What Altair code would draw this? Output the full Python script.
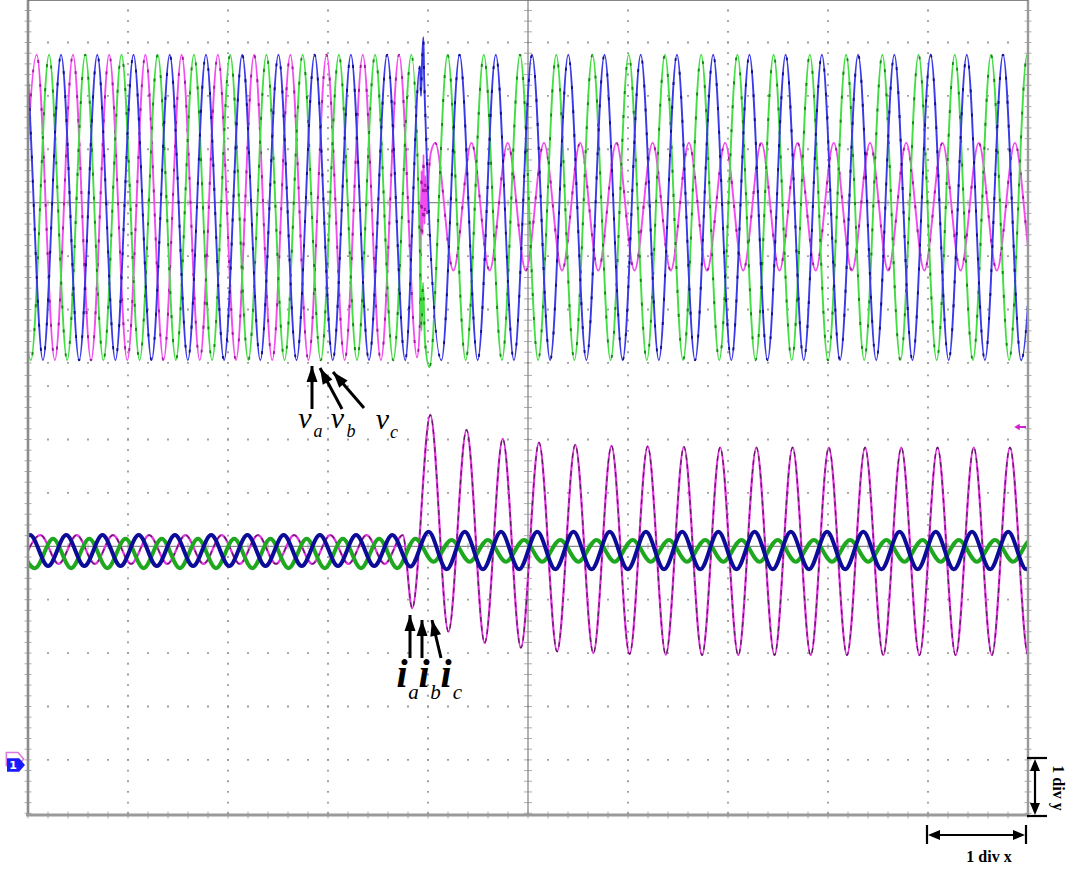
import math
import altair as alt
import pandas as pd

# ---------------- data (oscilloscope divisions) ----------------
HALF = 0.18115          # half period of the 50 Hz traces, in time divisions
UPPER_ZERO = 11.466     # centre of the voltage screen (divisions above bottom)
LOWER_ZERO = 5.032      # centre of the current screen
Y_TOP = 15.262

# voltage v_a (magenta): successive extrema, first at VA_T0
VA_T0 = -0.094
VA_LEVELS = [
    -2.95, 2.77, -2.95, 2.77, -2.95, 2.77, -2.95, 2.77, -2.95, 2.77, -2.95,
    2.77, -2.95, 2.77, -2.95, 2.77, -2.95, 2.77, -2.95, 2.77, -2.95, 2.77, -2.90,
    1.12, -1.27, 1.12, -1.27, 1.12, -1.27, 1.12, -1.27, 1.12, -1.27, 1.12, -1.27,
    1.12, -1.27, 1.12, -1.27, 1.12, -1.27, 1.12, -1.27, 1.12, -1.27, 1.12, -1.27,
    1.12, -1.27, 1.12, -1.27, 1.12, -1.27, 1.12, -1.27, 1.12, -1.27, 1.12,
]
VA_EXTRA_T = [3.92, 3.935, 3.945, 3.955, 3.965, 3.975, 3.99, 4.01, 4.03]
VA_EXTRA_V = [-2.2, 0.6, -0.6, 0.9, -0.4, 0.5, -0.2, 0.6, 0.95]

# voltage v_b (green)
VB_T0 = -0.152
VB_LEVELS = [
    2.77, -2.95, 2.77, -2.95, 2.77, -2.95, 2.77, -2.95, 2.77, -2.95, 2.77,
    -2.95, 2.77, -2.95, 2.77, -2.95, 2.77, -2.95, 2.77, -2.95, 2.77, -2.95, 2.77,
    -3.08, 2.77, -2.95, 2.77, -2.95, 2.77, -2.95, 2.77, -2.95, 2.77, -2.95, 2.77,
    -2.95, 2.77, -2.95, 2.77, -2.95, 2.77, -2.95, 2.77, -2.95, 2.77, -2.95, 2.77,
    -2.95, 2.77, -2.95, 2.77, -2.95, 2.77, -2.95, 2.77, -2.95, 2.77, -2.95,
]
VB_EXTRA_T = [3.92, 3.935, 3.95, 3.97]
VB_EXTRA_V = [-1.0, -2.4, -1.5, -2.6]

# voltage v_c (blue)
VC_T0 = -0.213
VC_LEVELS = [
    -2.95, 2.77, -2.95, 2.77, -2.95, 2.77, -2.95, 2.77, -2.95, 2.77, -2.95,
    2.77, -2.95, 2.77, -2.95, 2.77, -2.95, 2.77, -2.95, 2.77, -2.95, 2.77, -2.95,
    3.10, -2.95, 2.77, -2.95, 2.77, -2.95, 2.77, -2.95, 2.77, -2.95, 2.77, -2.95,
    2.77, -2.95, 2.77, -2.95, 2.77, -2.95, 2.77, -2.95, 2.77, -2.95, 2.77, -2.95,
    2.77, -2.95, 2.77, -2.95, 2.77, -2.95, 2.77, -2.95, 2.77, -2.95, 2.77,
]
VC_EXTRA_T = [3.92, 3.93, 3.94, 3.962]
VC_EXTRA_V = [2.55, 2.0, 2.6, 2.3]

# current i_a (magenta): before the fault, then after the fault
IA_T0 = -0.056
IA_LEVELS = [
    -0.33, 0.21, -0.33, 0.21, -0.33, 0.21, -0.33, 0.21, -0.33, 0.21, -0.33,
    0.21, -0.33, 0.21, -0.33, 0.21, -0.33, 0.21, -0.33, 0.21, -0.33, 0.21,
]
IA_T1 = 3.842
IA_FAULT_LEVELS = [
    -1.16, 2.46, -1.60, 2.18, -1.81, 2.01, -1.90, 1.94, -1.97, 1.90, -2.00, 1.88,
    -2.02, 1.87, -2.03, 1.86, -2.04, 1.85, -2.04, 1.85, -2.04, 1.85, -2.04, 1.85,
    -2.04, 1.85, -2.04, 1.85, -2.04, 1.85, -2.04, 1.85, -2.04, 1.85, -2.04, 1.85,
]

# current i_b (green)
IB_T0 = -0.112
IB_LEVELS = [
    0.14, -0.41, 0.14, -0.41, 0.14, -0.41, 0.14, -0.41, 0.14, -0.41, 0.14,
    -0.41, 0.14, -0.41, 0.14, -0.41, 0.14, -0.41, 0.14, -0.41, 0.14, -0.41, 0.14,
    -0.29, 0.12, -0.29, 0.12, -0.29, 0.12, -0.29, 0.12, -0.29, 0.12, -0.29, 0.12,
    -0.29, 0.12, -0.29, 0.12, -0.29, 0.12, -0.29, 0.12, -0.29, 0.12, -0.29, 0.12,
    -0.29, 0.12, -0.29, 0.12, -0.29, 0.12, -0.29, 0.12, -0.29, 0.12, -0.29,
]

# current i_c (blue)
IC_T0 = -0.161
IC_LEVELS = [
    -0.37, 0.21, -0.37, 0.21, -0.37, 0.21, -0.37, 0.21, -0.37, 0.21, -0.37,
    0.21, -0.37, 0.21, -0.37, 0.21, -0.37, 0.21, -0.37, 0.21, -0.37, 0.21, -0.38,
    0.27, -0.43, 0.27, -0.43, 0.27, -0.43, 0.27, -0.43, 0.27, -0.43, 0.27, -0.43,
    0.27, -0.43, 0.27, -0.43, 0.27, -0.43, 0.27, -0.43, 0.27, -0.43, 0.27, -0.43,
    0.27, -0.43, 0.27, -0.43, 0.27, -0.43, 0.27, -0.43, 0.27, -0.43, 0.27,
]

# ---------------- helpers ----------------
XS = alt.Scale(domain=[0, 10], nice=False, zero=False)
YS = alt.Scale(domain=[0, Y_TOP], nice=False, zero=False)
OX = 28  # left padding in pixels


def trace(t0, levels, zero, extra_t=(), extra_v=()):
    ts = [t0 + i * HALF for i in range(len(levels))] + list(extra_t)
    vs = [zero + v for v in levels] + [zero + v for v in extra_v]
    return pd.DataFrame({"t": ts, "v": vs}).sort_values("t").reset_index(drop=True)


def line(df, color, width, dash=None, opacity=1.0):
    kw = dict(interpolate="monotone", color=color, strokeWidth=width,
              clip=True, opacity=opacity, strokeCap="butt")
    if dash:
        kw["strokeDash"] = dash
    return alt.Chart(df).mark_line(**kw).encode(
        x=alt.X("t:Q", scale=XS, axis=None),
        y=alt.Y("v:Q", scale=YS, axis=None),
    )


def segs(rows, color, width, dash=None):
    df = pd.DataFrame(rows, columns=["x", "y", "x2", "y2"])
    kw = dict(color=color, strokeWidth=width)
    if dash:
        kw["strokeDash"] = dash
    return alt.Chart(df).mark_rule(**kw).encode(
        x=alt.X("x:Q", scale=XS, axis=None), y=alt.Y("y:Q", scale=YS, axis=None),
        x2="x2:Q", y2="y2:Q")


def px_segs(rows, color, width):
    df = pd.DataFrame([(a - OX, b, c - OX, d) for a, b, c, d in rows],
                      columns=["x", "y", "x2", "y2"])
    return alt.Chart(df).mark_rule(color=color, strokeWidth=width).encode(
        x=alt.X("x:Q", scale=None), y=alt.Y("y:Q", scale=None),
        x2="x2:Q", y2="y2:Q")


def px_heads(pairs, length=16, width=11):
    """Filled triangular arrow heads; tip at the given point."""
    layers = []
    for (tx, ty), (hx, hy) in pairs:  # tail, tip
        dx, dy = hx - tx, hy - ty
        n = math.hypot(dx, dy)
        ux, uy = dx / n, dy / n
        nx, ny = -uy, ux
        bx, by = hx - ux * length, hy - uy * length
        pts = [(hx, hy), (bx + nx * width / 2, by + ny * width / 2),
               (bx - nx * width / 2, by - ny * width / 2), (hx, hy)]
        df = pd.DataFrame([(j, x - OX, y) for j, (x, y) in enumerate(pts)],
                          columns=["o", "x", "y"])
        layers.append(alt.Chart(df).mark_line(color="black", strokeWidth=1, fill="black",
                                              filled=True, opacity=1).encode(
            x=alt.X("x:Q", scale=None), y=alt.Y("y:Q", scale=None), order="o:Q"))
    return alt.layer(*layers)


def px_text(rows, size, style="italic", weight="normal", baseline="alphabetic",
            angle=0, color="black", font="Liberation Serif"):
    df = pd.DataFrame([(a - OX, b, s) for a, b, s in rows], columns=["x", "y", "s"])
    return alt.Chart(df).mark_text(fontSize=size, fontStyle=style, fontWeight=weight,
                                   font=font, baseline=baseline, align="center",
                                   angle=angle, color=color).encode(
        x=alt.X("x:Q", scale=None), y=alt.Y("y:Q", scale=None), text="s:N")


# ---------------- grid ----------------
GRID = "#9a9a9a"
dots = []
for r in [-3, -2, -1, 1, 2, 3]:
    for i in range(51):
        dots.append((i * 0.2, UPPER_ZERO + r))
for r in [-4, -3, -2, -1, 1, 2, 3]:
    for i in range(51):
        dots.append((i * 0.2, LOWER_ZERO + r))
for c in [1, 2, 3, 4, 6, 7, 8, 9]:
    for m in range(-15, 19):
        dots.append((c, UPPER_ZERO + 0.2 * m))
    for m in range(-25, 17):
        dots.append((c, LOWER_ZERO + 0.2 * m))
dots_df = pd.DataFrame(dots, columns=["x", "y"])
grid_dots = alt.Chart(dots_df).mark_square(size=3.5, color=GRID, opacity=1).encode(
    x=alt.X("x:Q", scale=XS, axis=None), y=alt.Y("y:Q", scale=YS, axis=None))

ctr_h = pd.DataFrame([(i * 0.2, z) for z in (UPPER_ZERO, LOWER_ZERO) for i in range(51)],
                     columns=["x", "y"])
ctr_h_ticks = alt.Chart(ctr_h).mark_tick(orient="vertical", size=6, thickness=1,
                                          color="#8a8a8a").encode(
    x=alt.X("x:Q", scale=XS, axis=None), y=alt.Y("y:Q", scale=YS, axis=None))

v_ticks = [(5, UPPER_ZERO + 0.2 * m) for m in range(-15, 19)] + \
          [(5, LOWER_ZERO + 0.2 * m) for m in range(-25, 17)]
ctr_v = pd.DataFrame(v_ticks, columns=["x", "y"])
ctr_v_ticks = alt.Chart(ctr_v).mark_tick(orient="horizontal", size=8, thickness=1,
                                          color="#8a8a8a").encode(
    x=alt.X("x:Q", scale=XS, axis=None), y=alt.Y("y:Q", scale=YS, axis=None))

edge_ticks = pd.DataFrame([(0, y) for _, y in v_ticks] + [(10, y) for _, y in v_ticks],
                          columns=["x", "y"])
edge_tick_layer = alt.Chart(edge_ticks).mark_tick(orient="horizontal", size=7, thickness=1,
                                                   color="#8a8a8a").encode(
    x=alt.X("x:Q", scale=XS, axis=None), y=alt.Y("y:Q", scale=YS, axis=None))
bottom_ticks = alt.Chart(pd.DataFrame({"x": [i * 0.2 for i in range(51)], "y": [0.0] * 51})
                         ).mark_tick(orient="vertical", size=7, thickness=1,
                                     color="#8a8a8a").encode(
    x=alt.X("x:Q", scale=XS, axis=None), y=alt.Y("y:Q", scale=YS, axis=None))

centre_lines = segs([(0, UPPER_ZERO, 10, UPPER_ZERO), (0, LOWER_ZERO, 10, LOWER_ZERO),
                     (5, 0, 5, Y_TOP)], "#8a8a8a", 1.3)

frame = alt.layer(
    segs([(0, 0, 0, Y_TOP)], "#8c8c8c", 2.6),
    segs([(10, 0, 10, Y_TOP)], "#9a9a9a", 2.4),
    segs([(-0.02, 0, 10, 0)], "#9a9a9a", 3.0),
    segs([(0, Y_TOP, 10, Y_TOP)], "#6a6a6a", 1.6),
)

# ---------------- traces ----------------
va = trace(VA_T0, VA_LEVELS, UPPER_ZERO, VA_EXTRA_T, VA_EXTRA_V)
vb = trace(VB_T0, VB_LEVELS, UPPER_ZERO, VB_EXTRA_T, VB_EXTRA_V)
vc = trace(VC_T0, VC_LEVELS, UPPER_ZERO, VC_EXTRA_T, VC_EXTRA_V)
ia = pd.concat([trace(IA_T0, IA_LEVELS, LOWER_ZERO),
                trace(IA_T1, IA_FAULT_LEVELS, LOWER_ZERO)]).sort_values("t")
ib = trace(IB_T0, IB_LEVELS, LOWER_ZERO)
ic = trace(IC_T0, IC_LEVELS, LOWER_ZERO)

traces = alt.layer(
    line(va, "#f04cf0", 1.9), line(va, "#a01aa0", 1.9, [3, 21]),
    line(vb, "#44dd44", 1.9), line(vb, "#168816", 1.9, [3, 21]),
    line(vc, "#3a3ae6", 1.9), line(vc, "#10108c", 1.9, [3, 21]),
    line(ia, "#e433e4", 2.2), line(ia, "#5a1f5a", 1.3, [5, 4]),
    line(ib, "#1fa81f", 4.0),
    line(ic, "#0c0c98", 4.0),
)

# ---------------- annotations ----------------
v_arrows = [((312, 409), (312, 366)), ((342, 409), (320, 368)), ((364, 408), (333, 372))]
i_arrows = [((410, 658), (410, 615)), ((422, 658), (422, 620)), ((441, 658), (432, 620))]
shafts = px_segs([(a[0], a[1], b[0], b[1]) for a, b in v_arrows + i_arrows], "black", 3.0)
heads = px_heads(v_arrows + i_arrows, length=16, width=11)

v_text = px_text([(305, 428, "v"), (337.5, 428, "v"), (382.5, 429, "v")], 30)
v_sub = px_text([(318, 437, "a"), (351, 437, "b"), (394, 438, "c")], 18)
i_text = px_text([(402, 687, "i"), (424, 687, "i"), (446, 687, "i")], 40, weight="bold")
i_sub = px_text([(413.5, 699, "a"), (435.5, 699, "b"), (457.5, 699, "c")], 21)

scale_bars = px_segs([(935, 835, 1018, 835), (927, 825, 927, 844), (1026, 825, 1026, 844),
                      (1035, 766, 1035, 808), (1027, 758, 1047, 758),
                      (1027, 816, 1047, 816)], "black", 2.2)
scale_heads = px_heads([((980, 835), (928, 835)), ((980, 835), (1025, 835)),
                        ((1035, 790), (1035, 759)), ((1035, 790), (1035, 815))],
                       length=12, width=10)
div_x = px_text([(989, 857, "1 div x")], 16, style="normal", weight="bold", baseline="middle")
div_y = px_text([(1058, 788, "1 div y")], 16, style="normal", weight="bold",
                baseline="middle", angle=90)

# trigger / channel markers
MARK = "M-1,-0.75L0.35,-0.75L1,0L0.35,0.75L-1,0.75Z"
ch_outline = alt.Chart(pd.DataFrame({"x": [15 - OX], "y": [759]})).mark_point(
    shape=MARK, size=300, filled=False, color="#d040d0", strokeWidth=1.5).encode(
    x=alt.X("x:Q", scale=None), y=alt.Y("y:Q", scale=None))
ch_marker = alt.Chart(pd.DataFrame({"x": [16 - OX], "y": [765]})).mark_point(
    shape=MARK, size=324, filled=True, color="#1a1aff", opacity=1).encode(
    x=alt.X("x:Q", scale=None), y=alt.Y("y:Q", scale=None))
ch_label = px_text([(13, 766, "1")], 11, style="normal", weight="bold",
                   baseline="middle", color="white", font="DejaVu Sans")
cursor = alt.layer(
    px_segs([(1016, 427, 1026, 427)], "#d020d0", 2),
    alt.Chart(pd.DataFrame({"x": [1017 - OX], "y": [427]})).mark_point(
        shape="triangle-left", size=40, filled=True, color="#d020d0", opacity=1).encode(
        x=alt.X("x:Q", scale=None), y=alt.Y("y:Q", scale=None)),
)

chart = alt.layer(
    grid_dots, centre_lines, ctr_h_ticks, ctr_v_ticks, edge_tick_layer, bottom_ticks,
    traces, frame,
    shafts, heads, v_text, v_sub, i_text, i_sub,
    scale_bars, scale_heads, div_x, div_y,
    ch_outline, ch_marker, ch_label, cursor,
).properties(
    width=1000, height=815,
    padding={"left": OX, "top": 0, "right": 45, "bottom": 54},
    autosize=alt.AutoSizeParams(type="none"),
).configure_view(stroke=None).configure(background="white")

chart.save("out.html", embed_options={"renderer": "svg", "actions": False})
